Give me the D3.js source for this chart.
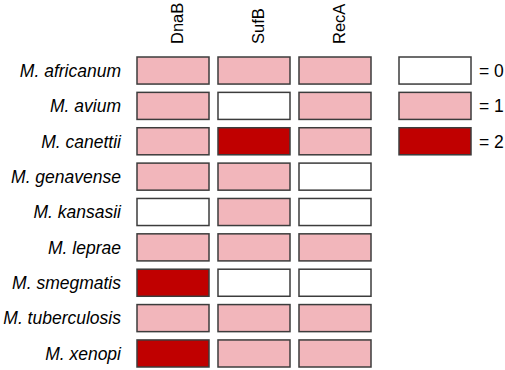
<!DOCTYPE html>
<html>
<head>
<meta charset="utf-8">
<script src="https://cdn.jsdelivr.net/npm/d3@7"></script>
<style>
  body { margin: 0; background: #fff; }
  text { font-family: Arial, "Liberation Sans", sans-serif; fill: #000; }
</style>
</head>
<body>
<svg id="chart" width="505" height="370"></svg>
<script>
// data
var species = ["M. africanum", "M. avium", "M. canettii", "M. genavense", "M. kansasii",
               "M. leprae", "M. smegmatis", "M. tuberculosis", "M. xenopi"];
var genes = ["DnaB", "SufB", "RecA"];
var dnaB = [1, 1, 1, 1, 0, 1, 2, 1, 2];
var sufB = [1, 0, 2, 1, 1, 1, 0, 1, 1];
var recA = [1, 1, 1, 0, 0, 1, 0, 1, 1];
var levels = [0, 1, 2];

var svg = d3.select("#chart");
var values = [dnaB, sufB, recA];

var x = d3.scaleBand().domain(genes).range([137, 371]).paddingInner(0.111).paddingOuter(0);
var y = d3.scaleBand().domain(species).range([57, 367]).paddingInner(0.235).paddingOuter(0);
var yLeg = d3.scaleBand().domain(levels).range([57, 57 + 3 * y.step() - (y.step() - y.bandwidth())])
  .paddingInner(0.235).paddingOuter(0);
var color = d3.scaleOrdinal().domain(levels).range(["#ffffff", "#f2b6bb", "#c00000"]);

var cells = [];
genes.forEach(function(g, gi) {
  species.forEach(function(s, si) {
    cells.push({gene: g, sp: s, v: values[gi][si]});
  });
});

svg.selectAll("rect.cell")
  .data(cells)
  .enter().append("rect")
  .attr("class", "cell")
  .attr("x", function(d) { return x(d.gene); })
  .attr("y", function(d) { return y(d.sp); })
  .attr("width", x.bandwidth())
  .attr("height", y.bandwidth())
  .attr("fill", function(d) { return color(d.v); })
  .attr("stroke", "#3c3c3c")
  .attr("stroke-width", 1.5);

// row labels
svg.selectAll("text.row")
  .data(species)
  .enter().append("text")
  .attr("class", "row")
  .attr("x", 121)
  .attr("y", function(d) { return y(d) + y.bandwidth() / 2; })
  .attr("dy", "0.36em")
  .attr("text-anchor", "end")
  .style("font-size", "17.5px")
  .style("font-style", "italic")
  .text(function(d) { return d; });

// column labels
svg.selectAll("text.col")
  .data(genes)
  .enter().append("text")
  .attr("class", "col")
  .attr("transform", function(d) {
    return "translate(" + (x(d) + x.bandwidth() / 2 + 10) + ",44) rotate(-90)";
  })
  .style("font-size", "16.5px")
  .text(function(d) { return d; });

// legend
var legX = 399;
svg.selectAll("rect.leg")
  .data(levels)
  .enter().append("rect")
  .attr("class", "leg")
  .attr("x", legX)
  .attr("y", function(d) { return yLeg(d); })
  .attr("width", x.bandwidth())
  .attr("height", yLeg.bandwidth())
  .attr("fill", function(d) { return color(d); })
  .attr("stroke", "#3c3c3c")
  .attr("stroke-width", 1.5);

svg.selectAll("text.leg")
  .data(levels)
  .enter().append("text")
  .attr("class", "leg")
  .attr("x", 479)
  .attr("y", function(d) { return yLeg(d) + yLeg.bandwidth() / 2; })
  .attr("dy", "0.36em")
  .style("font-size", "17.5px")
  .text(function(d) { return "= " + d; });
</script>
</body>
</html>
